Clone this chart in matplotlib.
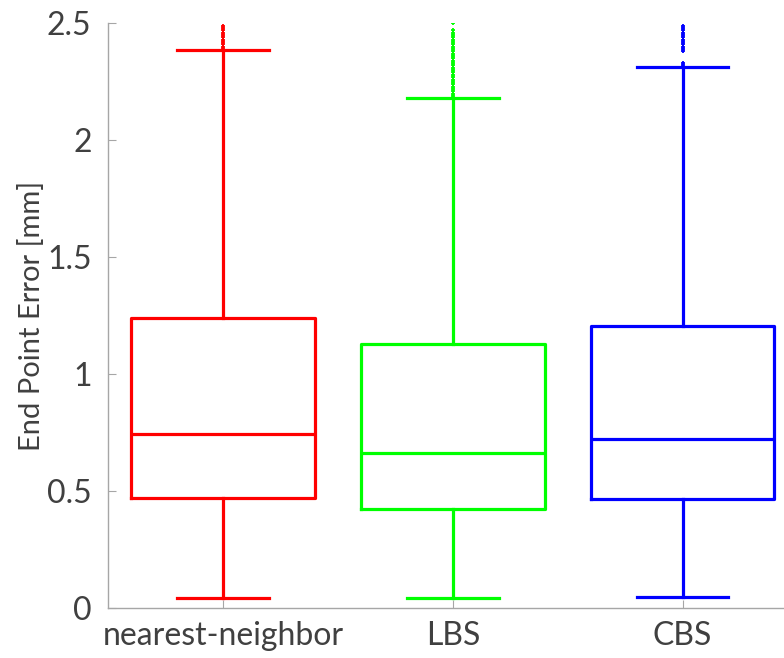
import matplotlib.pyplot as plt
import numpy as np

plt.rcParams['font.family'] = ['Lato', 'DejaVu Sans']

labels = ['nearest-neighbor', 'LBS', 'CBS']
colors = ['#ff0000', '#00ff00', '#0000ff']
q1 = [0.471, 0.424, 0.467]
med = [0.745, 0.665, 0.724]
q3 = [1.241, 1.129, 1.206]
whislo = [0.045, 0.043, 0.050]
whishi = [2.386, 2.179, 2.315]
# outliers (clipped at 2.5 by the y limit)
fliers_nn = [2.39, 2.40, 2.41, 2.42, 2.43, 2.44, 2.45, 2.46, 2.47, 2.48, 2.49]
fliers_lbs = [2.19, 2.20, 2.21, 2.22, 2.23, 2.24, 2.25, 2.26, 2.27, 2.28, 2.29,
              2.30, 2.31, 2.32, 2.33, 2.34, 2.35, 2.36, 2.37, 2.38, 2.39, 2.40,
              2.41, 2.42, 2.43, 2.44, 2.45, 2.46, 2.47, 2.50]
fliers_cbs = [2.32, 2.33, 2.38, 2.39, 2.40, 2.41, 2.42, 2.43, 2.44, 2.45, 2.46,
              2.47, 2.48, 2.49]

fliers = [fliers_nn, fliers_lbs, fliers_cbs]

fig = plt.figure(figsize=(7.84, 6.58), dpi=100)
ax = fig.add_axes([0.1381, 0.0755, 0.879, 0.889])

stats = []
for i in range(3):
    stats.append(dict(med=med[i], q1=q1[i], q3=q3[i], whislo=whislo[i],
                      whishi=whishi[i], fliers=fliers[i], label=labels[i]))

for i, st in enumerate(stats):
    c = colors[i]
    ax.bxp([st], positions=[i + 1], widths=0.8, showfliers=True,
           boxprops=dict(color=c, linewidth=2.3),
           medianprops=dict(color=c, linewidth=2.3),
           whiskerprops=dict(color=c, linewidth=2.3),
           capprops=dict(color=c, linewidth=2.3),
           capwidths=0.4,
           flierprops=dict(marker='+', markeredgecolor=c, markersize=2.5,
                           markeredgewidth=1.3, linestyle='none'))

ax.set_xlim(0.5, 3.5)
ax.set_ylim(0, 2.5)
ax.set_xticks([1, 2, 3])
ax.set_xticklabels(labels)
ax.set_yticks([0, 0.5, 1, 1.5, 2, 2.5])
ax.set_yticklabels(['0', '0.5', '1', '1.5', '2', '2.5'])
ax.set_ylabel('End Point Error [mm]', fontsize=21, color='#404040')
ax.yaxis.set_label_coords(-0.092, 0.5)

for s in ['top', 'right']:
    ax.spines[s].set_visible(False)
for s in ['left', 'bottom']:
    ax.spines[s].set_color('#a6a6a6')
    ax.spines[s].set_linewidth(1.0)
ax.tick_params(direction='in', length=6, color='#a6a6a6', labelsize=23,
               labelcolor='#404040')
ax.tick_params(axis='y', pad=12)
ax.tick_params(axis='x', pad=9)

fig.savefig('out.png', dpi=100)
